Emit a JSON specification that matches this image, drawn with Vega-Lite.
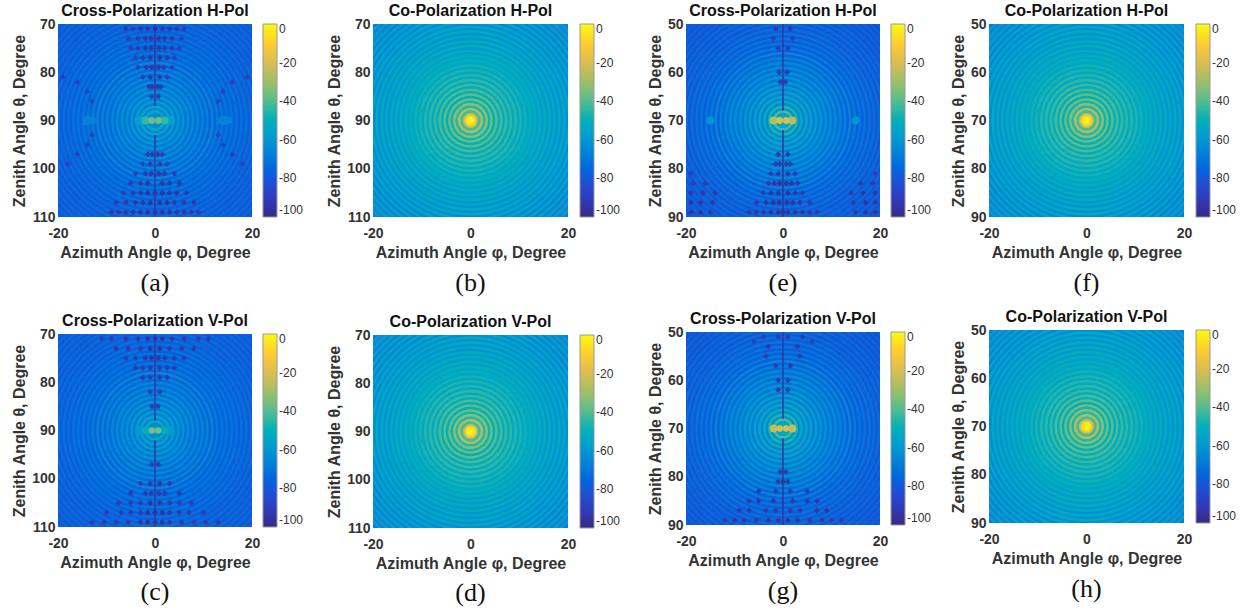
{"$schema":"https://vega.github.io/schema/vega-lite/v6.json","padding":{"left":11,"top":3,"right":0,"bottom":0},"background":"white",
"resolve":{"scale":{"color":"independent"},"legend":{"color":"independent"}},
"config":{"view":{"stroke":null},"range":{"ramp":["#352a87","#2b3fc4","#0f5cdd","#1481d6","#06a4ca","#2eb7a4","#87bf77","#d1bb59","#fec832","#f9fb0e"]},
"font":"Liberation Sans",
"title":{"font":"Liberation Sans","fontSize":16,"fontWeight":"bold","color":"#111","offset":-2},
"axis":{"ticks":false,"domain":false,"grid":false,"labelFont":"Liberation Sans","labelFontSize":14,"labelFontWeight":"bold","labelColor":"#333","labelPadding":3,"titleFont":"Liberation Sans","titleFontSize":16,"titleFontWeight":"bold","titleColor":"#333","labelFlush":false,"labelBound":false,"labelOverlap":false,"labelExpr":"''+datum.value"},
"axisX":{"titlePadding":4,"labelPadding":9},"axisY":{"titlePadding":4},
"legend":{"title":null,"gradientLength":193,"gradientThickness":14,"gradientStrokeColor":"#999","gradientStrokeWidth":1,"labelFont":"Liberation Sans","labelFontSize":12,"labelColor":"#333","labelOffset":5,"labelBaseline":"middle","offset":11,"padding":0,"orient":"right"}},
"datasets":{
"co":[{"r":29.1,"v":-68},{"r":28.6,"v":-58},{"r":28.1,"v":-68},{"r":27.6,"v":-58},{"r":27.1,"v":-67},{"r":26.6,"v":-57},{"r":26.1,"v":-67},{"r":25.6,"v":-57},{"r":25.1,"v":-66},{"r":24.6,"v":-56},{"r":24.1,"v":-66},{"r":23.6,"v":-55},{"r":23.1,"v":-65},{"r":22.6,"v":-55},{"r":22.1,"v":-64},{"r":21.6,"v":-54},{"r":21.1,"v":-64},{"r":20.6,"v":-54},{"r":20.1,"v":-63},{"r":19.6,"v":-53},{"r":19.1,"v":-62},{"r":18.6,"v":-52},{"r":18.1,"v":-62},{"r":17.6,"v":-52},{"r":17.1,"v":-61},{"r":16.6,"v":-51},{"r":16.1,"v":-60},{"r":15.6,"v":-50},{"r":15.1,"v":-59},{"r":14.6,"v":-50},{"r":14.1,"v":-58},{"r":13.6,"v":-49},{"r":13.1,"v":-57},{"r":12.6,"v":-48},{"r":12.1,"v":-56},{"r":11.6,"v":-47},{"r":11.1,"v":-55},{"r":10.6,"v":-46},{"r":10.1,"v":-54},{"r":9.6,"v":-45},{"r":9.1,"v":-53},{"r":8.6,"v":-44},{"r":8.1,"v":-52},{"r":7.6,"v":-43},{"r":7.1,"v":-51},{"r":6.6,"v":-41},{"r":6.1,"v":-50},{"r":5.6,"v":-39},{"r":5.1,"v":-49},{"r":4.6,"v":-37},{"r":4.1,"v":-47},{"r":3.6,"v":-33},{"r":3.1,"v":-45},{"r":2.6,"v":-28},{"r":2.1,"v":-42},{"r":1.6,"v":-28},{"r":1.3,"v":-14},{"r":1.0,"v":-6},{"r":0.6,"v":-1}],
"ca":[{"r":29.1,"v":-74},{"r":28.6,"v":-81},{"r":28.1,"v":-74},{"r":27.6,"v":-81},{"r":27.1,"v":-74},{"r":26.6,"v":-81},{"r":26.1,"v":-73},{"r":25.6,"v":-80},{"r":25.1,"v":-73},{"r":24.6,"v":-80},{"r":24.1,"v":-73},{"r":23.6,"v":-80},{"r":23.1,"v":-73},{"r":22.6,"v":-80},{"r":22.1,"v":-72},{"r":21.6,"v":-80},{"r":21.1,"v":-72},{"r":20.6,"v":-79},{"r":20.1,"v":-72},{"r":19.6,"v":-79},{"r":19.1,"v":-71},{"r":18.6,"v":-78},{"r":18.1,"v":-71},{"r":17.6,"v":-78},{"r":17.1,"v":-70},{"r":16.6,"v":-77},{"r":16.1,"v":-70},{"r":15.6,"v":-77},{"r":15.1,"v":-69},{"r":14.6,"v":-76},{"r":14.1,"v":-69},{"r":13.6,"v":-76},{"r":13.1,"v":-68},{"r":12.6,"v":-75},{"r":12.1,"v":-67},{"r":11.6,"v":-75},{"r":11.1,"v":-66},{"r":10.6,"v":-74},{"r":10.1,"v":-65},{"r":9.6,"v":-74},{"r":9.1,"v":-64},{"r":8.6,"v":-73},{"r":8.1,"v":-63},{"r":7.6,"v":-72},{"r":7.1,"v":-62},{"r":6.6,"v":-71},{"r":6.1,"v":-61},{"r":5.6,"v":-70},{"r":5.1,"v":-59},{"r":4.6,"v":-69},{"r":4.1,"v":-57},{"r":3.6,"v":-68},{"r":3.1,"v":-54},{"r":2.6,"v":-67},{"r":2.1,"v":-51},{"r":1.6,"v":-65},{"r":1.1,"v":-62}],
"ce":[{"r":29.1,"v":-75},{"r":28.6,"v":-83},{"r":28.1,"v":-75},{"r":27.6,"v":-83},{"r":27.1,"v":-75},{"r":26.6,"v":-83},{"r":26.1,"v":-74},{"r":25.6,"v":-82},{"r":25.1,"v":-74},{"r":24.6,"v":-82},{"r":24.1,"v":-74},{"r":23.6,"v":-82},{"r":23.1,"v":-73},{"r":22.6,"v":-81},{"r":22.1,"v":-73},{"r":21.6,"v":-81},{"r":21.1,"v":-72},{"r":20.6,"v":-81},{"r":20.1,"v":-72},{"r":19.6,"v":-80},{"r":19.1,"v":-71},{"r":18.6,"v":-79},{"r":18.1,"v":-70},{"r":17.6,"v":-79},{"r":17.1,"v":-70},{"r":16.6,"v":-78},{"r":16.1,"v":-69},{"r":15.6,"v":-77},{"r":15.1,"v":-68},{"r":14.6,"v":-76},{"r":14.1,"v":-67},{"r":13.6,"v":-75},{"r":13.1,"v":-66},{"r":12.6,"v":-74},{"r":12.1,"v":-64},{"r":11.6,"v":-73},{"r":11.1,"v":-63},{"r":10.6,"v":-72},{"r":10.1,"v":-62},{"r":9.6,"v":-71},{"r":9.1,"v":-61},{"r":8.6,"v":-70},{"r":8.1,"v":-59},{"r":7.6,"v":-69},{"r":7.1,"v":-57},{"r":6.6,"v":-68},{"r":6.1,"v":-55},{"r":5.6,"v":-67},{"r":5.1,"v":-53},{"r":4.6,"v":-66},{"r":4.1,"v":-50},{"r":3.6,"v":-64},{"r":3.1,"v":-46},{"r":2.6,"v":-61},{"r":2.1,"v":-41},{"r":1.6,"v":-56},{"r":1.1,"v":-50}],
"sa":[{"a":-6,"t":71,"v":-92},{"a":-4.5,"t":71,"v":-92},{"a":-3,"t":71,"v":-94},{"a":-1.5,"t":71,"v":-94},{"a":0,"t":71,"v":-96},{"a":1.5,"t":71,"v":-94},{"a":3,"t":71,"v":-94},{"a":4.5,"t":71,"v":-92},{"a":6,"t":71,"v":-92},{"a":-5.5,"t":73,"v":-90},{"a":-3.5,"t":73,"v":-94},{"a":-2,"t":73,"v":-94},{"a":-0.8,"t":73,"v":-95},{"a":0.8,"t":73,"v":-95},{"a":2,"t":73,"v":-94},{"a":3.5,"t":73,"v":-94},{"a":5.5,"t":73,"v":-90},{"a":-5,"t":75,"v":-90},{"a":-3.5,"t":75,"v":-93},{"a":-2,"t":75,"v":-94},{"a":-0.8,"t":75,"v":-95},{"a":0.8,"t":75,"v":-95},{"a":2,"t":75,"v":-94},{"a":3.5,"t":75,"v":-93},{"a":5,"t":75,"v":-90},{"a":-4,"t":77,"v":-90},{"a":-2.5,"t":77,"v":-94},{"a":-1,"t":77,"v":-95},{"a":1,"t":77,"v":-95},{"a":2.5,"t":77,"v":-94},{"a":4,"t":77,"v":-90},{"a":-3.5,"t":79,"v":-90},{"a":-1.8,"t":79,"v":-94},{"a":-0.7,"t":79,"v":-95},{"a":0.7,"t":79,"v":-95},{"a":1.8,"t":79,"v":-94},{"a":3.5,"t":79,"v":-90},{"a":-2.5,"t":81,"v":-90},{"a":-1,"t":81,"v":-94},{"a":1,"t":81,"v":-94},{"a":2.5,"t":81,"v":-90},{"a":-1.2,"t":83,"v":-92},{"a":-0.6,"t":83,"v":-94},{"a":0.6,"t":83,"v":-94},{"a":1.2,"t":83,"v":-92},{"a":-0.7,"t":85,"v":-92},{"a":0.7,"t":85,"v":-92},{"a":-9,"t":109,"v":-92},{"a":-7.5,"t":109,"v":-93},{"a":-6,"t":109,"v":-94},{"a":-4.5,"t":109,"v":-95},{"a":-3,"t":109,"v":-96},{"a":-1.5,"t":109,"v":-96},{"a":0,"t":109,"v":-96},{"a":1.5,"t":109,"v":-96},{"a":3,"t":109,"v":-96},{"a":4.5,"t":109,"v":-95},{"a":6,"t":109,"v":-94},{"a":7.5,"t":109,"v":-93},{"a":9,"t":109,"v":-92},{"a":-8,"t":107,"v":-92},{"a":-6,"t":107,"v":-94},{"a":-4,"t":107,"v":-95},{"a":-2.5,"t":107,"v":-96},{"a":-1,"t":107,"v":-96},{"a":1,"t":107,"v":-96},{"a":2.5,"t":107,"v":-96},{"a":4,"t":107,"v":-95},{"a":6,"t":107,"v":-94},{"a":8,"t":107,"v":-92},{"a":-6.5,"t":105,"v":-92},{"a":-4.5,"t":105,"v":-95},{"a":-3,"t":105,"v":-95},{"a":-1.5,"t":105,"v":-96},{"a":0,"t":105,"v":-96},{"a":1.5,"t":105,"v":-96},{"a":3,"t":105,"v":-95},{"a":4.5,"t":105,"v":-95},{"a":6.5,"t":105,"v":-92},{"a":-5,"t":103,"v":-92},{"a":-3,"t":103,"v":-94},{"a":-1.5,"t":103,"v":-95},{"a":1.5,"t":103,"v":-95},{"a":3,"t":103,"v":-94},{"a":5,"t":103,"v":-92},{"a":-4,"t":101,"v":-90},{"a":-2,"t":101,"v":-93},{"a":-0.8,"t":101,"v":-95},{"a":0.8,"t":101,"v":-95},{"a":2,"t":101,"v":-93},{"a":4,"t":101,"v":-90},{"a":-2.5,"t":99,"v":-90},{"a":-1,"t":99,"v":-93},{"a":1,"t":99,"v":-93},{"a":2.5,"t":99,"v":-90},{"a":-1.5,"t":97,"v":-90},{"a":-0.6,"t":97,"v":-93},{"a":0.6,"t":97,"v":-93},{"a":1.5,"t":97,"v":-90},{"a":-19,"t":81,"v":-90},{"a":-16,"t":82,"v":-90},{"a":-14,"t":84,"v":-90},{"a":-13,"t":86,"v":-90},{"a":19,"t":81,"v":-90},{"a":16,"t":82,"v":-90},{"a":14,"t":84,"v":-90},{"a":13,"t":86,"v":-90},{"a":-13,"t":93,"v":-90},{"a":-14,"t":95,"v":-90},{"a":-16,"t":97,"v":-90},{"a":-18,"t":99,"v":-90},{"a":13,"t":93,"v":-90},{"a":14,"t":95,"v":-90},{"a":16,"t":97,"v":-90},{"a":18,"t":99,"v":-90}],
"sc":[{"a":-11,"t":71,"v":-92},{"a":-9,"t":71,"v":-92},{"a":-6,"t":71,"v":-93},{"a":-3.5,"t":71,"v":-94},{"a":-1.5,"t":71,"v":-96},{"a":0,"t":71,"v":-96},{"a":1.5,"t":71,"v":-96},{"a":3.5,"t":71,"v":-94},{"a":6,"t":71,"v":-93},{"a":9,"t":71,"v":-92},{"a":11,"t":71,"v":-92},{"a":-8,"t":73,"v":-92},{"a":-5.5,"t":73,"v":-93},{"a":-3,"t":73,"v":-94},{"a":-1,"t":73,"v":-96},{"a":1,"t":73,"v":-96},{"a":3,"t":73,"v":-94},{"a":5.5,"t":73,"v":-93},{"a":8,"t":73,"v":-92},{"a":-6,"t":75,"v":-92},{"a":-4,"t":75,"v":-93},{"a":-2,"t":75,"v":-94},{"a":-0.7,"t":75,"v":-96},{"a":0.7,"t":75,"v":-96},{"a":2,"t":75,"v":-94},{"a":4,"t":75,"v":-93},{"a":6,"t":75,"v":-92},{"a":-4,"t":77,"v":-92},{"a":-2.5,"t":77,"v":-93},{"a":-1,"t":77,"v":-94},{"a":1,"t":77,"v":-94},{"a":2.5,"t":77,"v":-93},{"a":4,"t":77,"v":-92},{"a":-2.5,"t":79,"v":-92},{"a":-1,"t":79,"v":-93},{"a":1,"t":79,"v":-93},{"a":2.5,"t":79,"v":-92},{"a":-1,"t":82,"v":-92},{"a":1,"t":82,"v":-92},{"a":-0.6,"t":85,"v":-92},{"a":0.6,"t":85,"v":-92},{"a":-13,"t":109,"v":-92},{"a":-10.5,"t":109,"v":-92},{"a":-8,"t":109,"v":-92},{"a":-5.5,"t":109,"v":-93},{"a":-3,"t":109,"v":-94},{"a":-1.5,"t":109,"v":-96},{"a":0,"t":109,"v":-96},{"a":1.5,"t":109,"v":-96},{"a":3,"t":109,"v":-94},{"a":5.5,"t":109,"v":-93},{"a":8,"t":109,"v":-92},{"a":10.5,"t":109,"v":-92},{"a":13,"t":109,"v":-92},{"a":-10,"t":107,"v":-92},{"a":-7,"t":107,"v":-92},{"a":-5,"t":107,"v":-93},{"a":-3,"t":107,"v":-94},{"a":-1.5,"t":107,"v":-96},{"a":0,"t":107,"v":-96},{"a":1.5,"t":107,"v":-96},{"a":3,"t":107,"v":-94},{"a":5,"t":107,"v":-93},{"a":7,"t":107,"v":-92},{"a":10,"t":107,"v":-92},{"a":-7.5,"t":105,"v":-92},{"a":-5,"t":105,"v":-92},{"a":-3,"t":105,"v":-93},{"a":-1,"t":105,"v":-96},{"a":1,"t":105,"v":-96},{"a":3,"t":105,"v":-93},{"a":5,"t":105,"v":-92},{"a":7.5,"t":105,"v":-92},{"a":-5,"t":103,"v":-92},{"a":-2,"t":103,"v":-92},{"a":-0.8,"t":103,"v":-93},{"a":0.8,"t":103,"v":-93},{"a":2,"t":103,"v":-92},{"a":5,"t":103,"v":-92},{"a":-3,"t":101,"v":-92},{"a":-1,"t":101,"v":-93},{"a":1,"t":101,"v":-93},{"a":3,"t":101,"v":-92},{"a":-0.7,"t":97,"v":-92},{"a":0.7,"t":97,"v":-92}],
"se":[{"a":-1.5,"t":51,"v":-92},{"a":1.5,"t":51,"v":-92},{"a":-2,"t":53,"v":-90},{"a":2,"t":53,"v":-90},{"a":-1,"t":55,"v":-92},{"a":1,"t":55,"v":-92},{"a":-0.8,"t":60,"v":-92},{"a":0.8,"t":60,"v":-92},{"a":-0.5,"t":62,"v":-92},{"a":0.5,"t":62,"v":-92},{"a":-7,"t":89,"v":-92},{"a":-5.5,"t":89,"v":-94},{"a":-4,"t":89,"v":-95},{"a":-2.5,"t":89,"v":-96},{"a":-1,"t":89,"v":-96},{"a":0,"t":89,"v":-96},{"a":1,"t":89,"v":-96},{"a":2.5,"t":89,"v":-96},{"a":4,"t":89,"v":-95},{"a":5.5,"t":89,"v":-94},{"a":7,"t":89,"v":-92},{"a":-19,"t":89,"v":-95},{"a":-17,"t":89,"v":-95},{"a":-15,"t":89,"v":-94},{"a":15,"t":89,"v":-94},{"a":17,"t":89,"v":-95},{"a":19,"t":89,"v":-95},{"a":-5.5,"t":87,"v":-92},{"a":-3.5,"t":87,"v":-95},{"a":-2,"t":87,"v":-96},{"a":-0.8,"t":87,"v":-96},{"a":0.8,"t":87,"v":-96},{"a":2,"t":87,"v":-96},{"a":3.5,"t":87,"v":-95},{"a":5.5,"t":87,"v":-92},{"a":-19,"t":87,"v":-95},{"a":-17,"t":87,"v":-95},{"a":-14.5,"t":87,"v":-93},{"a":14.5,"t":87,"v":-93},{"a":17,"t":87,"v":-95},{"a":19,"t":87,"v":-95},{"a":-4,"t":85,"v":-92},{"a":-2.5,"t":85,"v":-95},{"a":-1,"t":85,"v":-96},{"a":1,"t":85,"v":-96},{"a":2.5,"t":85,"v":-95},{"a":4,"t":85,"v":-92},{"a":-19,"t":85,"v":-94},{"a":-16.5,"t":85,"v":-94},{"a":-14,"t":85,"v":-92},{"a":14,"t":85,"v":-92},{"a":16.5,"t":85,"v":-94},{"a":19,"t":85,"v":-94},{"a":-3,"t":83,"v":-92},{"a":-1.8,"t":83,"v":-95},{"a":-0.7,"t":83,"v":-96},{"a":0.7,"t":83,"v":-96},{"a":1.8,"t":83,"v":-95},{"a":3,"t":83,"v":-92},{"a":-18.5,"t":83,"v":-92},{"a":-16,"t":83,"v":-92},{"a":16,"t":83,"v":-92},{"a":18.5,"t":83,"v":-92},{"a":-2.5,"t":81,"v":-92},{"a":-1,"t":81,"v":-95},{"a":1,"t":81,"v":-95},{"a":2.5,"t":81,"v":-92},{"a":-19,"t":81,"v":-90},{"a":19,"t":81,"v":-90},{"a":-1.5,"t":79,"v":-92},{"a":-0.7,"t":79,"v":-94},{"a":0.7,"t":79,"v":-94},{"a":1.5,"t":79,"v":-92},{"a":-1,"t":77,"v":-92},{"a":1,"t":77,"v":-92}],
"sg":[{"a":-6,"t":52,"v":-90},{"a":6,"t":52,"v":-90},{"a":-4,"t":51,"v":-92},{"a":4,"t":51,"v":-92},{"a":-1,"t":51,"v":-92},{"a":1,"t":51,"v":-92},{"a":-3,"t":53,"v":-92},{"a":3,"t":53,"v":-92},{"a":-3.5,"t":55,"v":-92},{"a":3.5,"t":55,"v":-92},{"a":-1.5,"t":57,"v":-92},{"a":1.5,"t":57,"v":-92},{"a":-1,"t":60,"v":-92},{"a":1,"t":60,"v":-92},{"a":-1,"t":62,"v":-92},{"a":1,"t":62,"v":-92},{"a":-12,"t":89,"v":-92},{"a":-10,"t":89,"v":-94},{"a":-8,"t":89,"v":-94},{"a":-5.5,"t":89,"v":-93},{"a":-3,"t":89,"v":-93},{"a":-1,"t":89,"v":-94},{"a":1,"t":89,"v":-94},{"a":3,"t":89,"v":-93},{"a":5.5,"t":89,"v":-93},{"a":8,"t":89,"v":-94},{"a":10,"t":89,"v":-94},{"a":12,"t":89,"v":-92},{"a":-9,"t":87,"v":-93},{"a":-7,"t":87,"v":-94},{"a":-3.5,"t":87,"v":-93},{"a":-1.5,"t":87,"v":-94},{"a":1.5,"t":87,"v":-94},{"a":3.5,"t":87,"v":-93},{"a":7,"t":87,"v":-94},{"a":9,"t":87,"v":-93},{"a":-7,"t":85,"v":-93},{"a":-5,"t":85,"v":-93},{"a":-2,"t":85,"v":-94},{"a":2,"t":85,"v":-94},{"a":5,"t":85,"v":-93},{"a":7,"t":85,"v":-93},{"a":-5,"t":83,"v":-92},{"a":-1.5,"t":83,"v":-92},{"a":1.5,"t":83,"v":-92},{"a":5,"t":83,"v":-92},{"a":-1,"t":81,"v":-94},{"a":0,"t":81,"v":-96},{"a":1,"t":81,"v":-94},{"a":-0.6,"t":79,"v":-92},{"a":0.6,"t":79,"v":-92}]
},
"hconcat":[{"resolve":{"scale":{"color":"independent"},"legend":{"color":"independent"}},"hconcat":[{"resolve":{"scale":{"color":"independent"},"legend":{"color":"independent"}},"hconcat":[
{"resolve":{"scale":{"color":"independent"},"legend":{"color":"independent"}},"vconcat":[
{"width":194,"height":193,"title":"Cross-Polarization H-Pol","encoding":{"size":{"field":"r","type":"quantitative","legend":null,"scale":{"type":"pow","exponent":2,"domain":[0,30],"range":[0,84681]}},"color":{"field":"v","type":"quantitative","scale":{"domain":[-100,0]},"legend":{"type":"gradient","values":[0,-20,-40,-60,-80,-100],"labelExpr":"''+datum.value"}}},
"layer":[
{"data":{"name":"ca"},"mark":{"type":"point","filled":true,"opacity":1,"strokeWidth":0,"clip":true},"encoding":{"x":{"datum":0,"scale":{"domain":[-20,20]},"axis":{"values":[-20,0,20],"title":"Azimuth Angle φ, Degree"}},"y":{"datum":90,"scale":{"domain":[70,110],"reverse":true},"axis":{"values":[70,80,90,100,110],"title":"Zenith Angle θ, Degree"}}}},
{"data":{"name":"sa"},"mark":{"type":"point","filled":true,"opacity":1,"strokeWidth":0,"shape":"diamond","clip":true},"encoding":{"size":{"value":34},"x":{"field":"a","type":"quantitative"},"y":{"field":"t","type":"quantitative"}}},
{"data":{"values":[{"a":-0.15,"a2":0.15,"t":70,"t2":87,"v":-95},{"a":-0.15,"a2":0.15,"t":93,"t2":110,"v":-95}]},"mark":{"type":"rect","clip":true},"encoding":{"size":{"value":0},"x":{"field":"a","type":"quantitative"},"x2":{"field":"a2"},"y":{"field":"t","type":"quantitative"},"y2":{"field":"t2"}}},
{"data":{"values":[{"a":-3.2,"t":90,"r":1,"v":-56},{"a":3.2,"t":90,"r":1,"v":-56},{"a":-14,"t":90,"r":1,"v":-66},{"a":-12.8,"t":90,"r":0.7,"v":-66},{"a":14,"t":90,"r":1,"v":-66},{"a":15.2,"t":90,"r":0.7,"v":-66},{"a":-2,"t":90,"r":0.8,"v":-44},{"a":2,"t":90,"r":0.8,"v":-44},{"a":-0.72,"t":90,"r":0.72,"v":-37},{"a":0.72,"t":90,"r":0.72,"v":-37}]},"mark":{"type":"point","filled":true,"opacity":1,"strokeWidth":0,"clip":true},"encoding":{"x":{"field":"a","type":"quantitative"},"y":{"field":"t","type":"quantitative"}}},
{"data":{"values":[{"c":"(a)"}]},"mark":{"type":"text","font":"Liberation Serif"},"encoding":{"x":{"datum":0},"y":{"datum":123.7},"text":{"field":"c"},"size":{"value":26},"color":{"value":"#111"}}}
]},
{"width":194,"height":193,"title":"Cross-Polarization V-Pol","encoding":{"size":{"field":"r","type":"quantitative","legend":null,"scale":{"type":"pow","exponent":2,"domain":[0,30],"range":[0,84681]}},"color":{"field":"v","type":"quantitative","scale":{"domain":[-100,0]},"legend":{"type":"gradient","values":[0,-20,-40,-60,-80,-100],"labelExpr":"''+datum.value"}}},
"layer":[
{"data":{"name":"ca"},"mark":{"type":"point","filled":true,"opacity":1,"strokeWidth":0,"clip":true},"encoding":{"x":{"datum":0,"scale":{"domain":[-20,20]},"axis":{"values":[-20,0,20],"title":"Azimuth Angle φ, Degree"}},"y":{"datum":90,"scale":{"domain":[70,110],"reverse":true},"axis":{"values":[70,80,90,100,110],"title":"Zenith Angle θ, Degree"}}}},
{"data":{"name":"sc"},"mark":{"type":"point","filled":true,"opacity":1,"strokeWidth":0,"shape":"diamond","clip":true},"encoding":{"size":{"value":34},"x":{"field":"a","type":"quantitative"},"y":{"field":"t","type":"quantitative"}}},
{"data":{"values":[{"a":-0.15,"a2":0.15,"t":70,"t2":88,"v":-95},{"a":-0.15,"a2":0.15,"t":92,"t2":110,"v":-95}]},"mark":{"type":"rect","clip":true},"encoding":{"size":{"value":0},"x":{"field":"a","type":"quantitative"},"x2":{"field":"a2"},"y":{"field":"t","type":"quantitative"},"y2":{"field":"t2"}}},
{"data":{"values":[{"a":-3,"t":90,"r":1,"v":-58},{"a":3,"t":90,"r":1,"v":-58},{"a":-1.9,"t":90,"r":0.75,"v":-50},{"a":1.9,"t":90,"r":0.75,"v":-50},{"a":-0.65,"t":90,"r":0.65,"v":-36},{"a":0.65,"t":90,"r":0.65,"v":-36}]},"mark":{"type":"point","filled":true,"opacity":1,"strokeWidth":0,"clip":true},"encoding":{"x":{"field":"a","type":"quantitative"},"y":{"field":"t","type":"quantitative"}}},
{"data":{"values":[{"c":"(c)"}]},"mark":{"type":"text","font":"Liberation Serif"},"encoding":{"x":{"datum":0},"y":{"datum":123.5},"text":{"field":"c"},"size":{"value":26},"color":{"value":"#111"}}}
]}
],"spacing":16},
{"resolve":{"scale":{"color":"independent"},"legend":{"color":"independent"}},"vconcat":[
{"width":195,"height":193,"title":"Co-Polarization H-Pol","encoding":{"size":{"field":"r","type":"quantitative","legend":null,"scale":{"type":"pow","exponent":2,"domain":[0,30],"range":[0,84681]}},"color":{"field":"v","type":"quantitative","scale":{"domain":[-100,0]},"legend":{"type":"gradient","offset":12,"values":[0,-20,-40,-60,-80,-100],"labelExpr":"''+datum.value"}}},
"layer":[
{"data":{"name":"co"},"mark":{"type":"point","filled":true,"opacity":1,"strokeWidth":0,"clip":true},"encoding":{"x":{"datum":0,"scale":{"domain":[-20,20]},"axis":{"values":[-20,0,20],"title":"Azimuth Angle φ, Degree"}},"y":{"datum":90,"scale":{"domain":[70,110],"reverse":true},"axis":{"values":[70,80,90,100,110],"title":"Zenith Angle θ, Degree"}}}},
{"data":{"values":[{"c":"(b)"}]},"mark":{"type":"text","font":"Liberation Serif"},"encoding":{"x":{"datum":0},"y":{"datum":123.7},"text":{"field":"c"},"size":{"value":26},"color":{"value":"#111"}}}
]},
{"width":195,"height":193,"title":"Co-Polarization V-Pol","encoding":{"size":{"field":"r","type":"quantitative","legend":null,"scale":{"type":"pow","exponent":2,"domain":[0,30],"range":[0,84681]}},"color":{"field":"v","type":"quantitative","scale":{"domain":[-100,0]},"legend":{"type":"gradient","offset":12,"values":[0,-20,-40,-60,-80,-100],"labelExpr":"''+datum.value"}}},
"layer":[
{"data":{"name":"co"},"mark":{"type":"point","filled":true,"opacity":1,"strokeWidth":0,"clip":true},"encoding":{"x":{"datum":0,"scale":{"domain":[-20,20]},"axis":{"values":[-20,0,20],"title":"Azimuth Angle φ, Degree"}},"y":{"datum":90,"scale":{"domain":[70,110],"reverse":true},"axis":{"values":[70,80,90,100,110],"title":"Zenith Angle θ, Degree"}}}},
{"data":{"values":[{"c":"(d)"}]},"mark":{"type":"text","font":"Liberation Serif"},"encoding":{"x":{"datum":0},"y":{"datum":123.5},"text":{"field":"c"},"size":{"value":26},"color":{"value":"#111"}}}
]}
],"spacing":17}
],"spacing":22},
{"resolve":{"scale":{"color":"independent"},"legend":{"color":"independent"}},"vconcat":[
{"width":194,"height":193,"title":"Cross-Polarization H-Pol","encoding":{"size":{"field":"r","type":"quantitative","legend":null,"scale":{"type":"pow","exponent":2,"domain":[0,30],"range":[0,84681]}},"color":{"field":"v","type":"quantitative","scale":{"domain":[-100,0]},"legend":{"type":"gradient","values":[0,-20,-40,-60,-80,-100],"labelExpr":"''+datum.value"}}},
"layer":[
{"data":{"name":"ce"},"mark":{"type":"point","filled":true,"opacity":1,"strokeWidth":0,"clip":true},"encoding":{"x":{"datum":0,"scale":{"domain":[-20,20]},"axis":{"values":[-20,0,20],"title":"Azimuth Angle φ, Degree"}},"y":{"datum":70,"scale":{"domain":[50,90],"reverse":true},"axis":{"values":[50,60,70,80,90],"title":"Zenith Angle θ, Degree"}}}},
{"data":{"name":"se"},"mark":{"type":"point","filled":true,"opacity":1,"strokeWidth":0,"shape":"diamond","clip":true},"encoding":{"size":{"value":34},"x":{"field":"a","type":"quantitative"},"y":{"field":"t","type":"quantitative"}}},
{"data":{"values":[{"a":-0.15,"a2":0.15,"t":50,"t2":68,"v":-95},{"a":-0.15,"a2":0.15,"t":72,"t2":90,"v":-96}]},"mark":{"type":"rect","clip":true},"encoding":{"size":{"value":0},"x":{"field":"a","type":"quantitative"},"x2":{"field":"a2"},"y":{"field":"t","type":"quantitative"},"y2":{"field":"t2"}}},
{"data":{"values":[{"a":-15,"t":70,"r":0.8,"v":-60},{"a":15,"t":70,"r":0.8,"v":-60},{"a":-1.95,"t":70,"r":0.8,"v":-26},{"a":1.95,"t":70,"r":0.8,"v":-26},{"a":-0.7,"t":70,"r":0.7,"v":-20},{"a":0.7,"t":70,"r":0.7,"v":-20}]},"mark":{"type":"point","filled":true,"opacity":1,"strokeWidth":0,"clip":true},"encoding":{"x":{"field":"a","type":"quantitative"},"y":{"field":"t","type":"quantitative"}}},
{"data":{"values":[{"c":"(e)"}]},"mark":{"type":"text","font":"Liberation Serif"},"encoding":{"x":{"datum":0},"y":{"datum":103.7},"text":{"field":"c"},"size":{"value":26},"color":{"value":"#111"}}}
]},
{"width":194,"height":193,"title":"Cross-Polarization V-Pol","encoding":{"size":{"field":"r","type":"quantitative","legend":null,"scale":{"type":"pow","exponent":2,"domain":[0,30],"range":[0,84681]}},"color":{"field":"v","type":"quantitative","scale":{"domain":[-100,0]},"legend":{"type":"gradient","values":[0,-20,-40,-60,-80,-100],"labelExpr":"''+datum.value"}}},
"layer":[
{"data":{"name":"ce"},"mark":{"type":"point","filled":true,"opacity":1,"strokeWidth":0,"clip":true},"encoding":{"x":{"datum":0,"scale":{"domain":[-20,20]},"axis":{"values":[-20,0,20],"title":"Azimuth Angle φ, Degree"}},"y":{"datum":70,"scale":{"domain":[50,90],"reverse":true},"axis":{"values":[50,60,70,80,90],"title":"Zenith Angle θ, Degree"}}}},
{"data":{"name":"sg"},"mark":{"type":"point","filled":true,"opacity":1,"strokeWidth":0,"shape":"diamond","clip":true},"encoding":{"size":{"value":34},"x":{"field":"a","type":"quantitative"},"y":{"field":"t","type":"quantitative"}}},
{"data":{"values":[{"a":-0.15,"a2":0.15,"t":50,"t2":68,"v":-95},{"a":-0.15,"a2":0.15,"t":72,"t2":90,"v":-96}]},"mark":{"type":"rect","clip":true},"encoding":{"size":{"value":0},"x":{"field":"a","type":"quantitative"},"x2":{"field":"a2"},"y":{"field":"t","type":"quantitative"},"y2":{"field":"t2"}}},
{"data":{"values":[{"a":-1.95,"t":70,"r":0.8,"v":-24},{"a":1.95,"t":70,"r":0.8,"v":-24},{"a":-0.65,"t":70,"r":0.65,"v":-20},{"a":0.65,"t":70,"r":0.65,"v":-20}]},"mark":{"type":"point","filled":true,"opacity":1,"strokeWidth":0,"clip":true},"encoding":{"x":{"field":"a","type":"quantitative"},"y":{"field":"t","type":"quantitative"}}},
{"data":{"values":[{"c":"(g)"}]},"mark":{"type":"text","font":"Liberation Serif"},"encoding":{"x":{"datum":0},"y":{"datum":103.7},"text":{"field":"c"},"size":{"value":26},"color":{"value":"#111"}}}
]}
],"spacing":14}
],"spacing":26},
{"resolve":{"scale":{"color":"independent"},"legend":{"color":"independent"}},"vconcat":[
{"width":195,"height":193,"title":"Co-Polarization H-Pol","encoding":{"size":{"field":"r","type":"quantitative","legend":null,"scale":{"type":"pow","exponent":2,"domain":[0,30],"range":[0,84681]}},"color":{"field":"v","type":"quantitative","scale":{"domain":[-100,0]},"legend":{"type":"gradient","offset":12,"values":[0,-20,-40,-60,-80,-100],"labelExpr":"''+datum.value"}}},
"layer":[
{"data":{"name":"co"},"mark":{"type":"point","filled":true,"opacity":1,"strokeWidth":0,"clip":true},"encoding":{"x":{"datum":0,"scale":{"domain":[-20,20]},"axis":{"values":[-20,0,20],"title":"Azimuth Angle φ, Degree"}},"y":{"datum":70,"scale":{"domain":[50,90],"reverse":true},"axis":{"values":[50,60,70,80,90],"title":"Zenith Angle θ, Degree"}}}},
{"data":{"values":[{"c":"(f)"}]},"mark":{"type":"text","font":"Liberation Serif"},"encoding":{"x":{"datum":0},"y":{"datum":103.7},"text":{"field":"c"},"size":{"value":26},"color":{"value":"#111"}}}
]},
{"width":195,"height":193,"title":"Co-Polarization V-Pol","encoding":{"size":{"field":"r","type":"quantitative","legend":null,"scale":{"type":"pow","exponent":2,"domain":[0,30],"range":[0,84681]}},"color":{"field":"v","type":"quantitative","scale":{"domain":[-100,0]},"legend":{"type":"gradient","offset":12,"values":[0,-20,-40,-60,-80,-100],"labelExpr":"''+datum.value"}}},
"layer":[
{"data":{"name":"co"},"mark":{"type":"point","filled":true,"opacity":1,"strokeWidth":0,"clip":true},"encoding":{"x":{"datum":0,"scale":{"domain":[-20,20]},"axis":{"values":[-20,0,20],"title":"Azimuth Angle φ, Degree"}},"y":{"datum":70,"scale":{"domain":[50,90],"reverse":true},"axis":{"values":[50,60,70,80,90],"title":"Zenith Angle θ, Degree"}}}},
{"data":{"values":[{"c":"(h)"}]},"mark":{"type":"text","font":"Liberation Serif"},"encoding":{"x":{"datum":0},"y":{"datum":103.7},"text":{"field":"c"},"size":{"value":26},"color":{"value":"#111"}}}
]}
],"spacing":12}
],"spacing":18}
